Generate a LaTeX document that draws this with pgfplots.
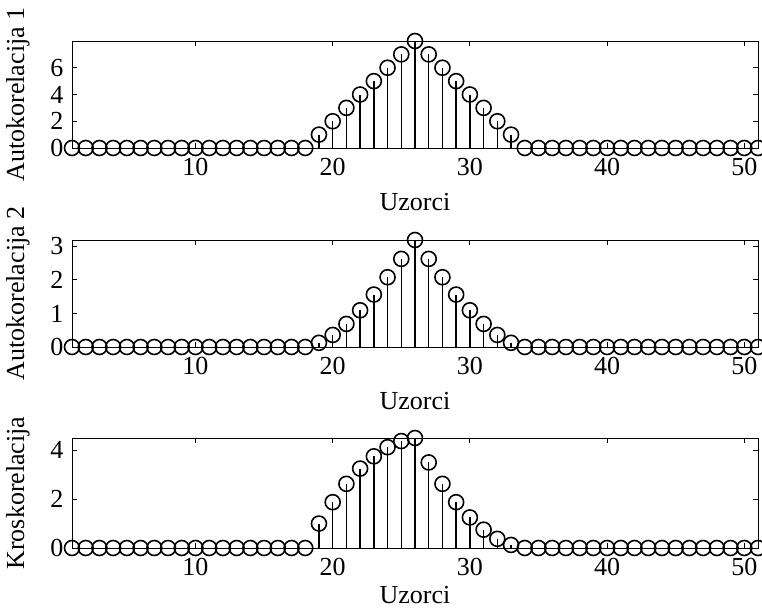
\documentclass[border=0pt]{standalone}
\usepackage{fontspec}
\setmainfont{Liberation Serif}
\usepackage{pgfplots}
\usepackage{pgfplotstable}
\pgfplotsset{compat=1.18}

% n, autocorrelation of x1, autocorrelation of x2, cross-correlation
\pgfplotstableread{
n a1 a2 k
1 0 0 0
2 0 0 0
3 0 0 0
4 0 0 0
5 0 0 0
6 0 0 0
7 0 0 0
8 0 0 0
9 0 0 0
10 0 0 0
11 0 0 0
12 0 0 0
13 0 0 0
14 0 0 0
15 0 0 0
16 0 0 0
17 0 0 0
18 0 0 0
19 1 0.125 1
20 2 0.359375 1.875
21 3 0.6875 2.625
22 4 1.09375 3.25
23 5 1.5625 3.75
24 6 2.078125 4.125
25 7 2.625 4.375
26 8 3.1875 4.5
27 7 2.625 3.5
28 6 2.078125 2.625
29 5 1.5625 1.875
30 4 1.09375 1.25
31 3 0.6875 0.75
32 2 0.359375 0.375
33 1 0.125 0.125
34 0 0 0
35 0 0 0
36 0 0 0
37 0 0 0
38 0 0 0
39 0 0 0
40 0 0 0
41 0 0 0
42 0 0 0
43 0 0 0
44 0 0 0
45 0 0 0
46 0 0 0
47 0 0 0
48 0 0 0
49 0 0 0
50 0 0 0
51 0 0 0
}\corr

\pgfplotsset{
  stemaxis/.style={
    scale only axis,
    width=686pt, height=107pt,
    xmin=1, xmax=51,
    xtick={10,20,30,40,50},
    ymin=0,
    clip=false,
    axis line style={line width=0.9pt},
    tick style={line width=0.9pt, black},
    major tick length=5pt,
    tick align=inside,
    xlabel={Uzorci},
    /pgf/number format/assume math mode=true,
    tick label style={font=\rmfamily\fontsize{26}{29}\selectfont},
    label style={font=\rmfamily\fontsize{26}{29}\selectfont},
    xticklabel style={yshift=-7pt},
    xlabel style={yshift=-10pt},
    yticklabel style={xshift=-5pt},
    ylabel style={yshift=14pt},
  },
  stem/.style={
    ycomb, black, line width=1.5pt,
    mark=o, mark size=7.5pt,
    mark options={line width=1.6pt, fill=none},
  },
}

\begin{document}
\begin{tikzpicture}
\useasboundingbox (0pt,0pt) rectangle (762pt,614pt);

\begin{axis}[stemaxis, at={(72pt,466pt)}, anchor=south west,
  ymax=8, ytick={0,2,4,6}, ylabel={Autokorelacija 1}]
  \addplot[stem] table[x=n, y=a1] {\corr};
\end{axis}

\begin{axis}[stemaxis, at={(72pt,267pt)}, anchor=south west,
  ymax=3.1875, ytick={0,1,2,3}, ylabel={Autokorelacija 2}]
  \addplot[stem] table[x=n, y=a2] {\corr};
\end{axis}

% the lowest label sits a little closer to its axis
\begin{axis}[stemaxis, at={(72pt,66pt)}, anchor=south west, height=110pt,
  ymax=4.5, ytick={0,2,4}, ylabel={Kroskorelacija},
  xlabel style={yshift=7pt}]
  \addplot[stem] table[x=n, y=k] {\corr};
\end{axis}
\end{tikzpicture}
\end{document}
